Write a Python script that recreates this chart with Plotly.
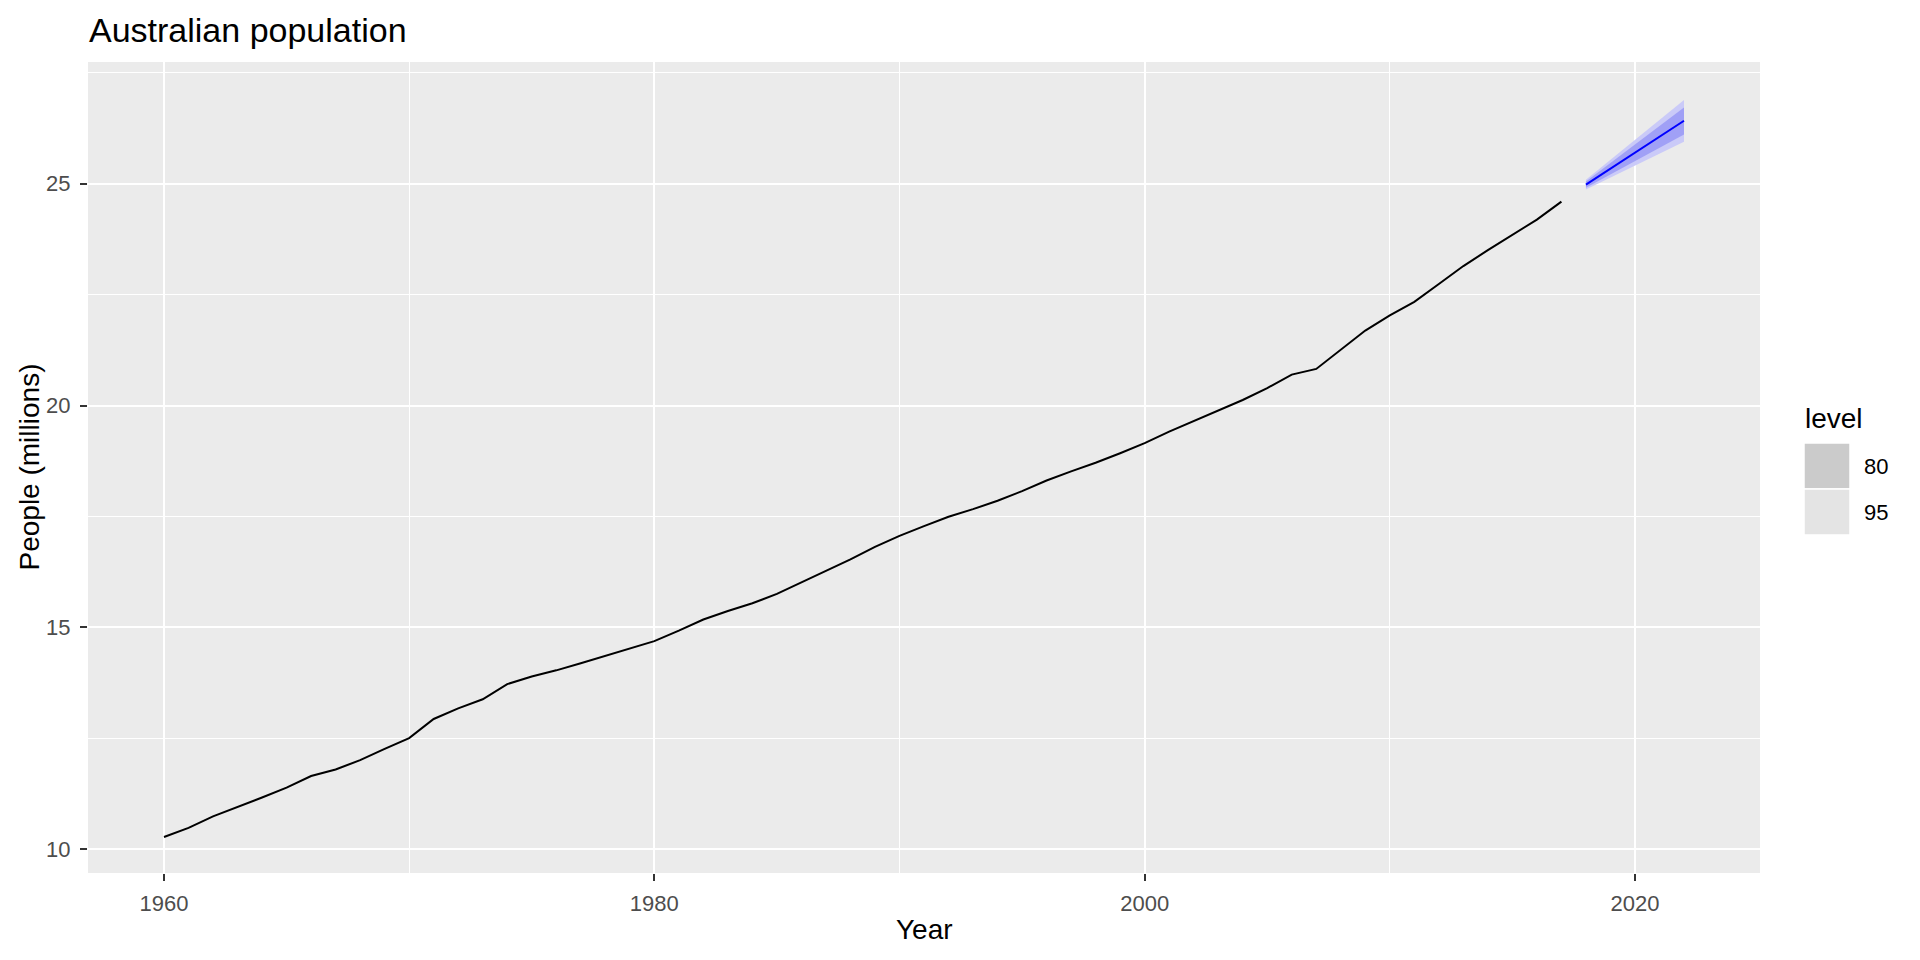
import plotly.graph_objects as go

# ---------------- data ----------------
years = list(range(1960, 2018))
population = [
    10.276, 10.483, 10.742, 10.950, 11.167, 11.388, 11.651, 11.799, 12.009, 12.263,
    12.507, 12.937, 13.177, 13.380, 13.723, 13.893, 14.033, 14.192, 14.358, 14.514,
    14.692, 14.927, 15.178, 15.369, 15.544, 15.758, 16.018, 16.264, 16.532, 16.814,
    17.065, 17.284, 17.495, 17.667, 17.855, 18.072, 18.311, 18.517, 18.711, 18.926,
    19.153, 19.413, 19.651, 19.895, 20.127, 20.395, 20.698, 20.827, 21.249, 21.692,
    22.032, 22.340, 22.742, 23.146, 23.504, 23.850, 24.191, 24.598,
]
fc_years = [2018, 2019, 2020, 2021, 2022]
fc_mean = [24.98, 25.34, 25.70, 26.06, 26.42]
fc_lo80 = [24.91, 25.21, 25.51, 25.81, 26.11]
fc_hi80 = [25.05, 25.47, 25.89, 26.31, 26.72]
fc_lo95 = [24.87, 25.14, 25.41, 25.68, 25.95]
fc_hi95 = [25.09, 25.54, 25.99, 26.44, 26.89]

legend_title = "level"
legend_levels = ["80", "95"]
legend_colors = ["#CBCBCB", "#E4E4E4"]

# ---------------- layout geometry ----------------
# page body has an 8px default margin, so figure coords = screen coords - 8
OFF = 8
W, H = 1920 - OFF, 960 - OFF
# panel edges in screen px
SL, SR, ST, SB = 88, 1760, 62, 873
PL, PR, PT, PB = SL - OFF, SR - OFF, ST - OFF, SB - OFF
FONT = "Liberation Sans, Arial, sans-serif"

def px_x(sx):
    return (sx - SL) / (SR - SL)

def px_y(sy):
    return (SB - sy) / (SB - ST)

fig = go.Figure()

# 95% interval
fig.add_trace(go.Scatter(x=fc_years, y=fc_lo95, mode="lines", line=dict(width=0),
                         hoverinfo="skip", showlegend=False))
fig.add_trace(go.Scatter(x=fc_years, y=fc_hi95, mode="lines", line=dict(width=0),
                         fill="tonexty", fillcolor="rgb(202,202,248)",
                         hoverinfo="skip", showlegend=False))
# 80% interval
fig.add_trace(go.Scatter(x=fc_years, y=fc_lo80, mode="lines", line=dict(width=0),
                         hoverinfo="skip", showlegend=False))
fig.add_trace(go.Scatter(x=fc_years, y=fc_hi80, mode="lines", line=dict(width=0),
                         fill="tonexty", fillcolor="rgb(160,160,246)",
                         hoverinfo="skip", showlegend=False))
# forecast mean
fig.add_trace(go.Scatter(x=fc_years, y=fc_mean, mode="lines",
                         line=dict(color="#0000FF", width=2), showlegend=False))
# history
fig.add_trace(go.Scatter(x=years, y=population, mode="lines",
                         line=dict(color="black", width=2), showlegend=False))

axis_common = dict(
    showline=False, zeroline=False, automargin=False,
    showgrid=True, gridcolor="white", gridwidth=2.2,
    ticks="outside", ticklen=7, tickwidth=2, tickcolor="#333333",
    tickfont=dict(family=FONT, size=22, color="#4D4D4D"),
)

fig.update_xaxes(
    range=[1956.9, 2025.1], tick0=1960, dtick=20,
    minor=dict(dtick=10, tick0=1960, showgrid=True, gridcolor="white", gridwidth=1.1, ticks=""),
    ticklabelstandoff=4,
    **axis_common,
)
fig.update_yaxes(
    range=[9.465, 27.745], tick0=10, dtick=5,
    minor=dict(dtick=2.5, tick0=10, showgrid=True, gridcolor="white", gridwidth=1.1, ticks=""),
    ticklabelstandoff=5,
    **axis_common,
)

annotations = [
    # title
    dict(text="Australian population", xref="paper", yref="paper",
         x=px_x(87), y=px_y(30), xanchor="left", yanchor="middle", showarrow=False,
         font=dict(family=FONT, size=34, color="black")),
    # axis titles
    dict(text="Year", xref="paper", yref="paper", x=0.5, y=px_y(930),
         xanchor="center", yanchor="middle", showarrow=False,
         font=dict(family=FONT, size=28, color="black")),
    dict(text="People (millions)", xref="paper", yref="paper", x=px_x(29), y=0.5,
         xanchor="center", yanchor="middle", textangle=-90, showarrow=False,
         font=dict(family=FONT, size=28, color="black")),
    # legend title
    dict(text=legend_title, xref="paper", yref="paper", x=px_x(1803), y=px_y(418),
         xanchor="left", yanchor="middle", showarrow=False,
         font=dict(family=FONT, size=28, color="black")),
]

shapes = []
key_top = 443
key_h = 46
for i, (lab, col) in enumerate(zip(legend_levels, legend_colors)):
    y0 = key_top + i * key_h
    shapes.append(dict(type="rect", xref="paper", yref="paper",
                       x0=px_x(1804), x1=px_x(1850), y0=px_y(y0 + key_h), y1=px_y(y0),
                       fillcolor=col, line=dict(color="white", width=1.5)))
    annotations.append(dict(text=lab, xref="paper", yref="paper", x=px_x(1862),
                            y=px_y(y0 + key_h / 2), xanchor="left", yanchor="middle",
                            showarrow=False,
                            font=dict(family=FONT, size=22, color="black")))

fig.update_layout(
    width=W, height=H,
    margin=dict(l=PL, r=W - PR, t=PT, b=H - PB, pad=0),
    paper_bgcolor="white", plot_bgcolor="#EBEBEB",
    showlegend=False,
    annotations=annotations, shapes=shapes,
    font=dict(family=FONT),
)

fig.write_html("out.html")
